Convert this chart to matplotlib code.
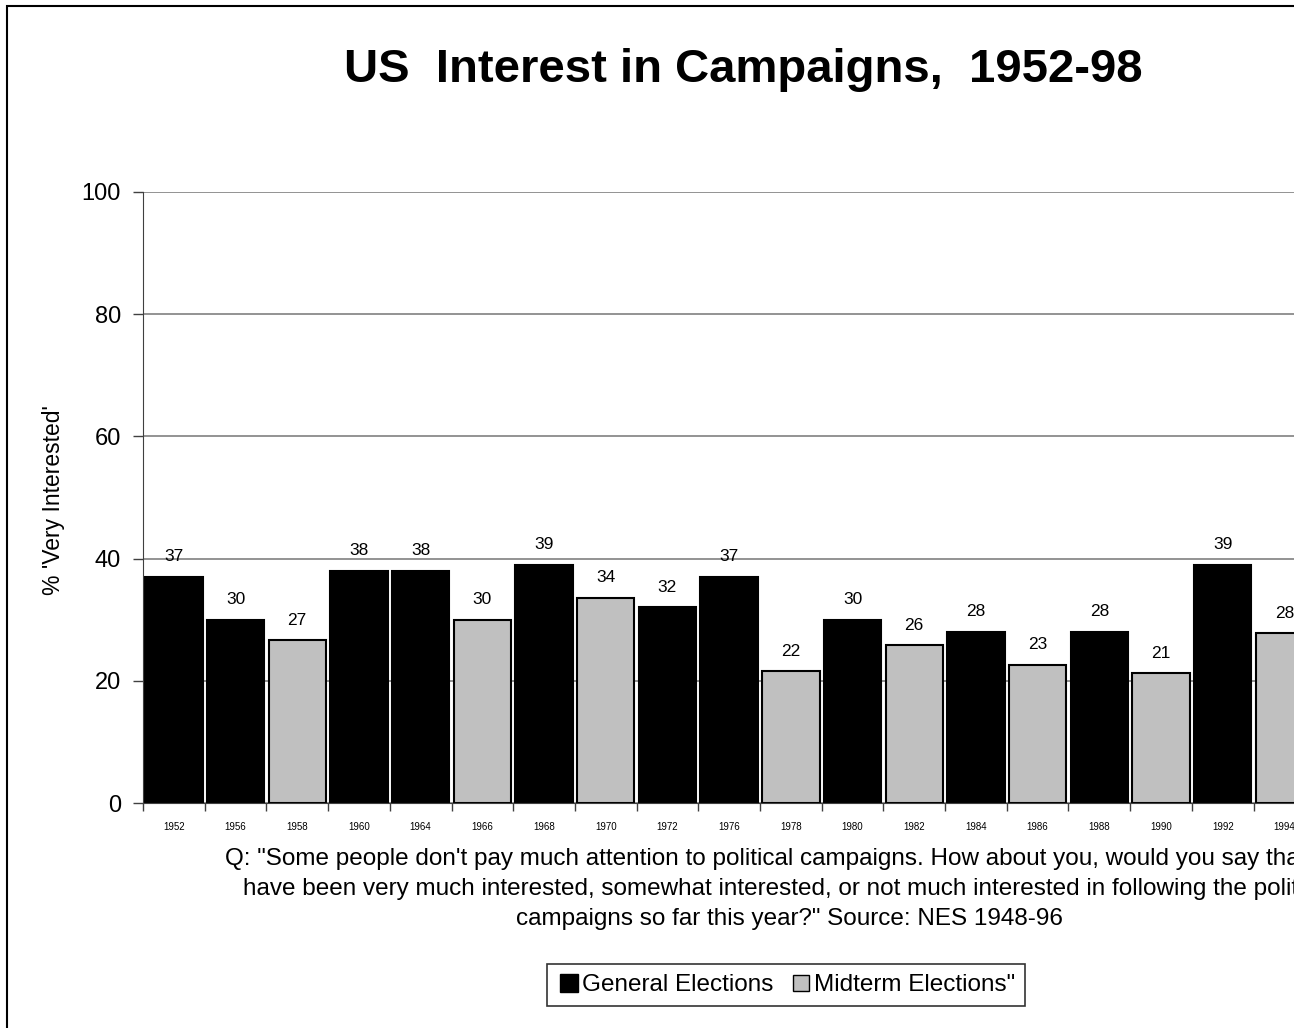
import matplotlib.pyplot as plt
from matplotlib.lines import Line2D
from matplotlib.patches import Rectangle

plt.rcParams['font.family'] = ['Liberation Sans', 'DejaVu Sans']

# survey years, in the order they are plotted
years = ['1952', '1956', '1958', '1960', '1964', '1966', '1968', '1970', '1972',
         '1976', '1978', '1980', '1982', '1984', '1986', '1988', '1990', '1992', '1994']
# % very interested
values = [37.0, 30.0, 26.6, 38.0, 38.0, 30.0, 39.0, 33.6, 32.0,
          37.0, 21.6, 30.0, 25.8, 28.0, 22.6, 28.0, 21.2, 39.0, 27.8]
# 'G' = general election year, 'M' = midterm
kinds = ['G', 'G', 'M', 'G', 'G', 'M', 'G', 'M', 'G',
         'G', 'M', 'G', 'M', 'G', 'M', 'G', 'M', 'G', 'M']
n_slots = 21  # 1996 and 1998 slots run past the right edge

W, H = 1306, 1028
fig = plt.figure(figsize=(W / 100, H / 100), dpi=100)

# outer chart frame
fig.patches.append(Rectangle((7 / W, -0.1), 1.2, 1 - 6 / H + 0.1, transform=fig.transFigure,
                             fill=False, edgecolor='black', linewidth=1.5))

ax = fig.add_axes([143 / W, 1 - 803 / H, 61.7 * n_slots / W, 611 / H])

colors = {'G': '#000000', 'M': '#c0c0c0'}
x = list(range(len(years)))
bars = ax.bar(x, values, width=0.93, color=[colors[k] for k in kinds],
              edgecolor='black', linewidth=1.5, zorder=2)
for xi, v in zip(x, values):
    ax.annotate(f'{v:.0f}', (xi, v), xytext=(0, 9), textcoords='offset points',
                ha='center', va='bottom', fontsize=12.5)

ax.set_xlim(-0.5, n_slots - 0.5)
ax.set_ylim(0, 100)
ax.set_yticks([0, 20, 40, 60, 80, 100])
ax.tick_params(axis='y', labelsize=17, length=7, width=1, color='#404040', pad=9)
ax.yaxis.grid(True, color='#808080', linewidth=1.2, zorder=0)
ax.set_axisbelow(True)

ax.set_xticks(x)
ax.set_xticklabels(years, fontsize=7)
ax.set_xticks([i - 0.5 for i in range(n_slots + 1)], minor=True)
ax.tick_params(axis='x', which='major', length=0, pad=14)
ax.tick_params(axis='x', which='minor', length=6, width=1, color='#404040')

for side in ['top', 'right']:
    ax.spines[side].set_visible(False)
ax.spines['left'].set_color('#404040')
ax.spines['bottom'].set_color('#404040')

ax.set_ylabel("% 'Very Interested'", fontsize=16.5)
ax.yaxis.set_label_coords((65 - 143) / (61.7 * n_slots), (803 - 500) / 611)

fig.text(743 / W, 1 - 70 / H, 'US  Interest in Campaigns,  1952-98',
         ha='center', va='center', fontsize=34, fontweight='bold')

caption = ('Q: "Some people don\'t pay much attention to political campaigns. How about you, would you say that you\n'
           'have been very much interested, somewhat interested, or not much interested in following the political\n'
           'campaigns so far this year?" Source: NES 1948-96')
fig.text(789 / W, 1 - 889 / H, caption, ha='center', va='center', fontsize=17.5,
         multialignment='center', linespacing=1.48)

handles = [Line2D([], [], marker='s', linestyle='none', markersize=13,
                  markerfacecolor='#000000', markeredgecolor='black'),
           Line2D([], [], marker='s', linestyle='none', markersize=11,
                  markerfacecolor='#c0c0c0', markeredgecolor='black')]
leg = fig.legend(handles, ['General Elections', 'Midterm Elections"'], loc='center',
                 bbox_to_anchor=(786 / W, 1 - 985 / H), ncol=2, fontsize=17.5,
                 frameon=True, fancybox=False, edgecolor='black', handletextpad=0.05,
                 columnspacing=0.6, handlelength=1.0, borderpad=0.4)
leg.get_frame().set_linewidth(1.2)

# blank strip along the right edge where the chart is cut off
fig.patches.append(Rectangle((1294 / W, 0), 1, 1, transform=fig.transFigure,
                             facecolor='white', edgecolor='none', zorder=10))

fig.savefig('out.png', dpi=100)
